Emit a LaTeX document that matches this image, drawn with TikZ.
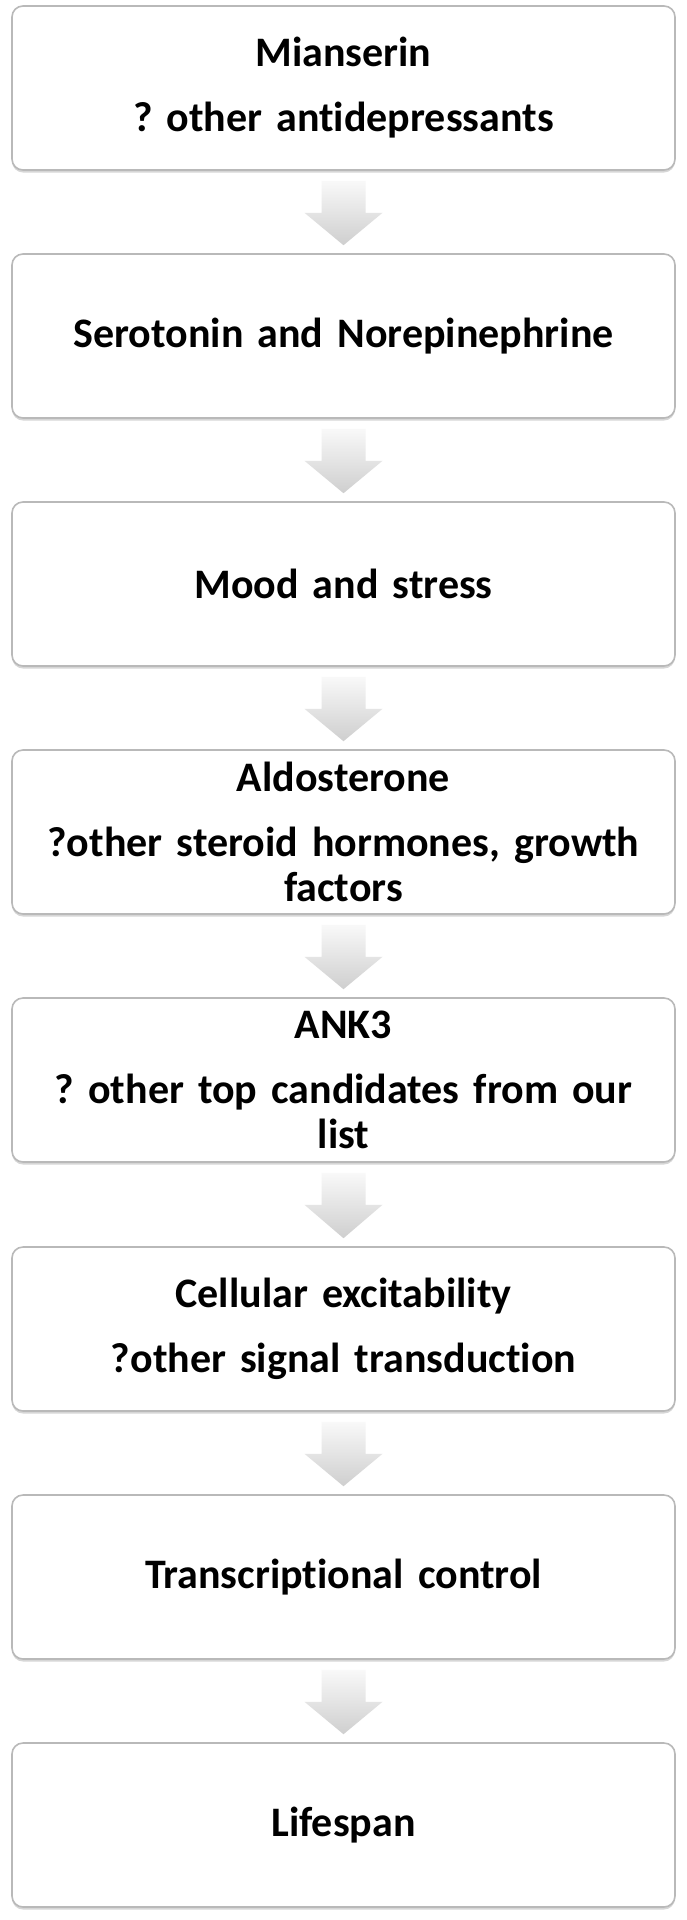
\documentclass[tikz,border=0pt]{standalone}
\usepackage{fontspec}
\setmainfont{Carlito}[RawFeature=-liga]
\usetikzlibrary{calc,shadows}
\newcommand\stepfont{\bfseries\fontsize{42}{45}\selectfont\frenchspacing
  \hyphenpenalty=10000\relax\lefthyphenmin=64\relax\spaceskip=0.17em\relax}
\tikzset{
  stepbox/.style={draw=gray!55, line width=1.6pt, rounded corners=11pt, fill=white,
    minimum width=663pt, minimum height=164pt, text width=655pt, align=center,
    inner sep=0pt, font=\stepfont,
    drop shadow={shadow xshift=0pt, shadow yshift=-2.5pt, opacity=0.45, fill=gray!70}},
  fatarrow/.style={top color=gray!5, bottom color=gray!38, draw=none}
}
\begin{document}
\begin{tikzpicture}[x=1pt,y=-1pt]
\useasboundingbox[fill=white] (0,0) rectangle (687,1920);
\node[stepbox] (b1) at (343.5,88) {Mianserin\\[20pt]? other antidepressants};
\node[stepbox] (b2) at (343.5,336) {Serotonin and Norepinephrine};
\node[stepbox] (b3) at (343.5,584) {Mood and stress};
\node[stepbox] (b4) at (343.5,832) {Aldosterone\\[20pt]?other steroid hormones, growth\\factors};
\node[stepbox] (b5) at (343.5,1080) {ANK3\\[20pt]? other top candidates from our\\list};
\node[stepbox] (b6) at (343.5,1329) {Cellular excitability\\[20pt]?other signal transduction};
\node[stepbox] (b7) at (343.5,1577) {Transcriptional control};
\node[stepbox] (b8) at (343.5,1825) {Lifespan};
\foreach \a/\b in {b1/b2,b2/b3,b3/b4,b4/b5,b5/b6,b6/b7,b7/b8}{
  \path[fatarrow]
    ($(\a.south)+(-22,10)$) -- ($(\a.south)+(22,10)$) -- ($(\a.south)+(22,42)$)
    -- ($(\a.south)+(39,42)$) -- ($(\b.north)+(0,-8)$) -- ($(\a.south)+(-39,42)$)
    -- ($(\a.south)+(-22,42)$) -- cycle;
}
\end{tikzpicture}
\end{document}
